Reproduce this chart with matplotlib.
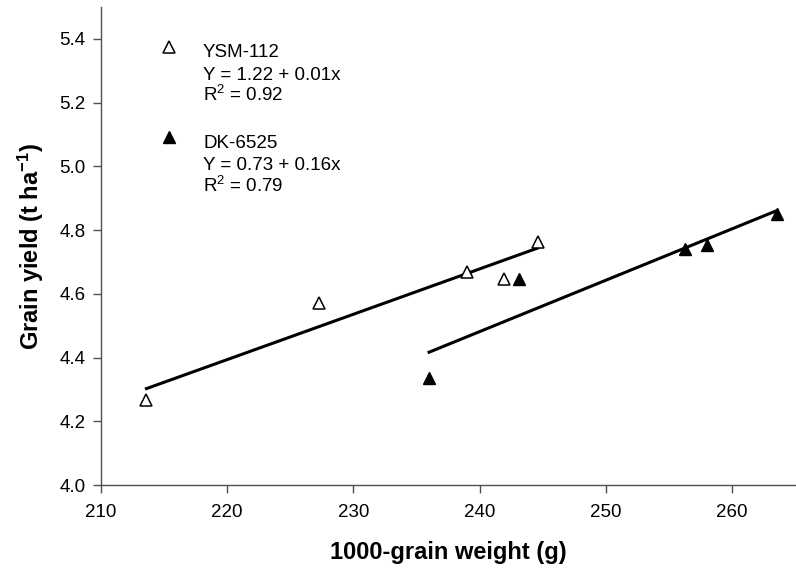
import numpy as np
import matplotlib
matplotlib.use('Agg')
import matplotlib.pyplot as plt

plt.rcParams['font.family'] = ['Liberation Sans', 'DejaVu Sans']
plt.rcParams['mathtext.fontset'] = 'custom'
plt.rcParams['mathtext.rm'] = 'Liberation Sans'
plt.rcParams['mathtext.bf'] = 'Liberation Sans:bold'
plt.rcParams['mathtext.default'] = 'regular'

# 1000-grain weight (g) and grain yield (t/ha) for the two hybrids
ysm_x = [213.6, 227.3, 239.0, 241.9, 244.6]
ysm_y = [4.266, 4.571, 4.667, 4.645, 4.763]
dk_x = [236.0, 243.1, 256.3, 258.0, 263.6]
dk_y = [4.337, 4.645, 4.740, 4.753, 4.850]

ysm_lines = ['YSM-112', 'Y = 1.22 + 0.01x', 'R$^2$ = 0.92']
dk_lines = ['DK-6525', 'Y = 0.73 + 0.16x', 'R$^2$ = 0.79']

fig = plt.figure(figsize=(7.96, 5.68), dpi=100)
ax = fig.add_axes([101/796, 1 - 485/568, 694/796, 478/568])

# linear fits drawn over the range of each series
for xs, ys in [(ysm_x, ysm_y), (dk_x, dk_y)]:
    k, b = np.polyfit(xs, ys, 1)
    xx = np.array([min(xs), max(xs)])
    ax.plot(xx, k*xx + b, color='black', lw=2.2, zorder=2)

ax.plot(ysm_x, ysm_y, '^', ms=8.5, mfc='white', mec='black', mew=1.1, zorder=3)
ax.plot(dk_x, dk_y, '^', ms=8.5, mfc='black', mec='black', zorder=3)

# legend-like annotation
ax.plot([0.0984], [0.917], '^', ms=8.5, mfc='white', mec='black', mew=1.1,
        transform=ax.transAxes, clip_on=False)
ax.plot([0.0984], [0.727], '^', ms=8.5, mfc='black', mec='black',
        transform=ax.transAxes, clip_on=False)
for lines, ys in [(ysm_lines, [0.896, 0.847, 0.804]),
                  (dk_lines, [0.704, 0.659, 0.614])]:
    for s, yy in zip(lines, ys):
        ax.text(0.147, yy, s, transform=ax.transAxes, fontsize=13.5,
                va='baseline', ha='left')

ax.set_xlim(210, 265)
ax.set_ylim(4.0, 5.5)
ax.set_xticks(np.arange(210, 261, 10))
ax.set_yticks(np.arange(4.0, 5.41, 0.2))
ax.set_yticklabels(['%.1f' % v for v in np.arange(4.0, 5.41, 0.2)])

ax.spines['top'].set_visible(False)
ax.spines['right'].set_visible(False)
for s in ['left', 'bottom']:
    ax.spines[s].set_color('#505050')
    ax.spines[s].set_linewidth(1.0)
ax.tick_params(direction='out', length=6, width=1, color='#505050',
               labelsize=13.5)
ax.tick_params(axis='x', pad=8)
ax.tick_params(axis='y', pad=5)

ax.set_xlabel('1000-grain weight (g)', fontsize=17, fontweight='bold', labelpad=14)
ax.set_ylabel('Grain yield (t ha$^{\\mathbf{-1}}$)', fontsize=17,
              fontweight='bold', labelpad=10)

fig.savefig('out.png', dpi=100)
